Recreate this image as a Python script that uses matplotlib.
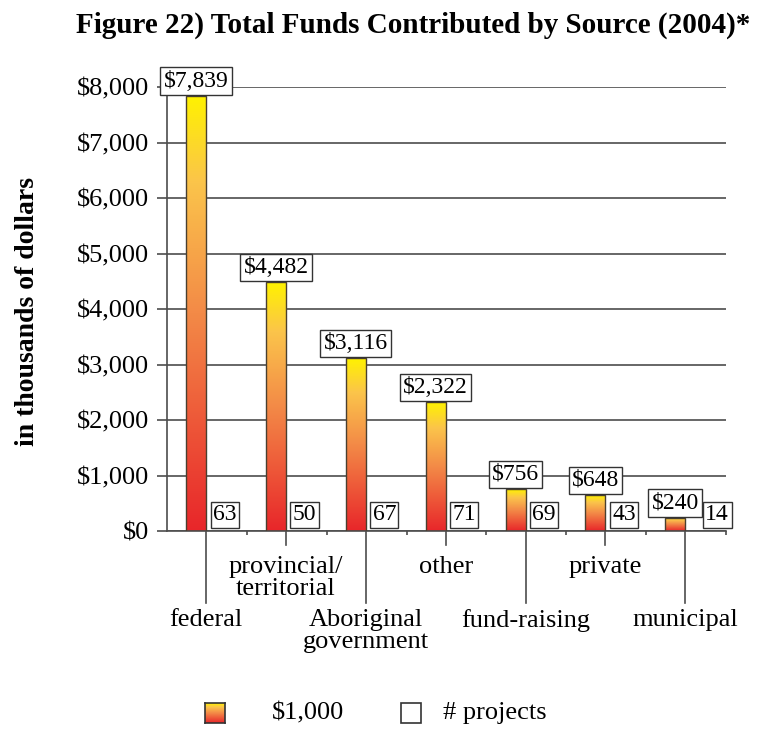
import numpy as np
import matplotlib.pyplot as plt
from matplotlib.colors import LinearSegmentedColormap
from matplotlib.patches import Rectangle

# funds in thousands of dollars, and number of projects per source
sources = ['federal', 'provincial/\nterritorial', 'Aboriginal\ngovernment', 'other',
           'fund-raising', 'private', 'municipal']
funds = [7839, 4482, 3116, 2322, 756, 648, 240]
projects = [63, 50, 67, 71, 69, 43, 14]
yticks = list(range(0, 8001, 1000))

plt.rcParams['font.family'] = 'Liberation Serif'

grad = LinearSegmentedColormap.from_list(
    'fund', [(0, '#e8262a'), (0.5, '#f38a47'), (0.8, '#fbc44b'), (1, '#fff200')])
line_col = '#4d4d4d'
gradient = np.linspace(0, 1, 256).reshape(-1, 1)

fig = plt.figure(figsize=(7.69, 7.32), dpi=100)
ax = fig.add_axes([167 / 769, 1 - 531 / 732, (726 - 167) / 769, 444 / 732])
ax.set_xlim(0, 7)
ax.set_ylim(0, 8000)

x = np.arange(len(sources))
bars = ax.bar(x + 0.24, funds, width=0.25, align='edge', facecolor='none',
              edgecolor='#4a3f2f', linewidth=1, zorder=3)
value_labels = []
for b, v in zip(bars, funds):
    x0, w = b.get_x(), b.get_width()
    ax.imshow(gradient, cmap=grad, origin='lower', extent=[x0, x0 + w, 0, v],
              aspect='auto', zorder=2.5)
    value_labels.append(ax.annotate(
        f'${v:,}', (x0 + w / 2, v), xytext=(0, 3), textcoords='offset points',
        ha='center', va='bottom', fontsize=17, zorder=6,
        bbox=dict(boxstyle='square,pad=0.14', fc='white', ec='#333333', lw=1)))
ax.set_xlim(0, 7)
ax.set_ylim(0, 8000)

# project counts sit in boxes just right of each bar, pushed past the value box if they'd collide
fig.canvas.draw()
renderer = fig.canvas.get_renderer()
inv = ax.transData.inverted()
for i, p in enumerate(projects):
    left = i + 0.575
    vb = value_labels[i].get_bbox_patch().get_window_extent(renderer)
    vb_right, vb_bottom = inv.transform((vb.x1, vb.y0))
    if vb_bottom < 600:
        left = max(left, vb_right + 0.04)
    ax.annotate(str(p), (left, 0), xytext=(0, 4), textcoords='offset points',
                ha='left', va='bottom', fontsize=17, zorder=5,
                bbox=dict(boxstyle='square,pad=0.1', fc='white', ec='#333333', lw=1))

for t in yticks:
    ax.axhline(t, color=line_col, lw=1.2, zorder=1)

ax.set_yticks(yticks)
ax.set_yticklabels([f'${t:,}' for t in yticks])
ax.tick_params(axis='y', length=7, width=1.2, color=line_col, labelsize=19, pad=6)
ax.set_xticks(range(1, 8))
ax.set_xticklabels([])
ax.tick_params(axis='x', length=3, width=1.2, color=line_col)
for s in ['top', 'right']:
    ax.spines[s].set_visible(False)
for s in ['left', 'bottom']:
    ax.spines[s].set_color(line_col)
    ax.spines[s].set_linewidth(1.2)

# leader lines and category names below the axis
px = 8000 / 444
for i, name in enumerate(sources):
    xl = i + 0.49
    if i % 2 == 0:
        depth = 72 * px
        ty = 78 * px
    else:
        depth = 14 * px
        ty = 25 * px
    ax.plot([xl, xl], [0, -depth], color=line_col, lw=1.2, clip_on=False)
    ax.text(xl, -ty, name, ha='center', va='top', fontsize=19, linespacing=1.0)

fig.text(413 / 769, 1 - 25 / 732, 'Figure 22) Total Funds Contributed by Source (2004)*',
         ha='center', va='center', fontsize=21, fontweight='bold')
fig.text(28 / 769, 1 - 312 / 732, 'in thousands of dollars', rotation=90,
         ha='center', va='center', fontsize=20, fontweight='bold')

# legend
lax = fig.add_axes([205 / 769, 1 - 723 / 732, 20 / 769, 20 / 732])
lax.imshow(gradient, cmap=grad, origin='lower', aspect='auto')
lax.set_xticks([])
lax.set_yticks([])
for s in lax.spines.values():
    s.set_color('#333333')
    s.set_linewidth(1.2)
fig.text(272 / 769, 1 - 713 / 732, '$1,000', ha='left', va='center', fontsize=19)
fig.add_artist(Rectangle((401 / 769, 1 - 723 / 732), 20 / 769, 20 / 732,
                         transform=fig.transFigure, fc='white', ec='#333333', lw=1.2))
fig.text(443 / 769, 1 - 713 / 732, '# projects', ha='left', va='center', fontsize=19)

fig.savefig('out.png', dpi=100)
